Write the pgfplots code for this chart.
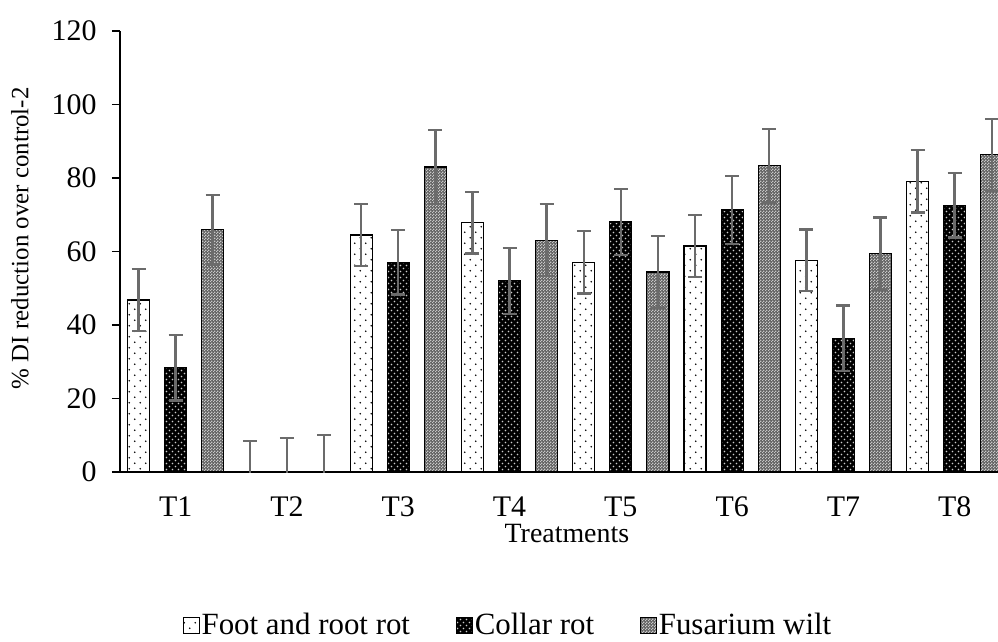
\documentclass[border=0pt]{standalone}
\usepackage{pgfplots}
\pgfplotsset{compat=1.18}
\usepackage{fontspec}
\setmainfont{Liberation Serif}
\usetikzlibrary{patterns}

\pgfdeclarepatternformonly{sparsedots}{\pgfqpoint{-1bp}{-1bp}}{\pgfqpoint{12bp}{12bp}}{\pgfqpoint{11bp}{11bp}}{%
 \pgfpathcircle{\pgfqpoint{2.75bp}{2.75bp}}{0.9bp}%
 \pgfpathcircle{\pgfqpoint{8.25bp}{8.25bp}}{0.9bp}%
 \pgfusepath{fill}}
\pgfdeclarepatternformonly{densedots}{\pgfqpoint{-1bp}{-1bp}}{\pgfqpoint{7bp}{7bp}}{\pgfqpoint{6bp}{6bp}}{%
 \pgfpathcircle{\pgfqpoint{1.5bp}{1.5bp}}{0.9bp}%
 \pgfpathcircle{\pgfqpoint{4.5bp}{4.5bp}}{0.9bp}%
 \pgfusepath{fill}}
\pgfdeclarepatternformonly{checker}{\pgfqpoint{0bp}{0bp}}{\pgfqpoint{3bp}{3bp}}{\pgfqpoint{3bp}{3bp}}{%
 \pgfpathrectangle{\pgfqpoint{0bp}{0bp}}{\pgfqpoint{1.5bp}{1.5bp}}%
 \pgfpathrectangle{\pgfqpoint{1.5bp}{1.5bp}}{\pgfqpoint{1.5bp}{1.5bp}}%
 \pgfusepath{fill}}

\pgfplotstableread{
x y e
0 46.8 8.4
1 0 8.5
2 64.5 8.4
3 67.8 8.4
4 57.1 8.5
5 61.5 8.4
6 57.6 8.4
7 79.1 8.5
}\foot
\pgfplotstableread{
x y e
0 28.4 8.9
1 0 9.2
2 57.1 8.8
3 52.0 9.0
4 68.0 9.0
5 71.3 9.2
6 36.4 8.9
7 72.6 8.8
}\collar
\pgfplotstableread{
x y e
0 65.9 9.5
1 0 10.1
2 83.0 10.1
3 63.1 9.8
4 54.4 9.8
5 83.3 10.0
6 59.4 9.8
7 86.3 9.8
}\fusarium

\begin{document}
\begin{tikzpicture}
\useasboundingbox (0,0) rectangle (998bp,642bp);
\begin{axis}[
  at={(120bp,170bp)}, anchor=south west,
  scale only axis, width=878bp, height=441bp,
  xmin=-0.5, xmax=7.389, ymin=0, ymax=120,
  axis x line=bottom, axis y line=left,
  axis line style={-, line width=1.2bp, black},
  ytick={0,20,...,120},
  xtick={0,...,7}, xticklabels={T1,T2,T3,T4,T5,T6,T7,T8},
  x tick style={draw=none},
  y tick style={black, line width=1.2bp},
  major tick length=8bp, tick align=outside,
  tick label style={font=\fontsize{30}{33}\selectfont},
  /pgf/number format/assume math mode=true,
  yticklabel style={xshift=-12bp},
  xticklabel style={yshift=-13bp},
  ylabel={\% DI reduction over control-2},
  ylabel style={font=\fontsize{25}{28}\selectfont, at={(axis description cs:-0.114,0.53)}, anchor=center},
  xlabel={Treatments},
  xlabel style={font=\fontsize{28}{31}\selectfont, at={(axis description cs:0.509,-0.140)}, anchor=center},
  ybar, bar width=0.198,
  error bars/y dir=both, error bars/y explicit,
  error bars/error bar style={line width=2.5bp, color=black!58},
  error bars/error mark options={rotate=90, mark size=7bp, line width=2.5bp, color=black!58},
  legend columns=3,
  legend style={at={(0.442,-0.347)}, anchor=center, draw=none,
    font=\fontsize{31}{34}\selectfont,
    /tikz/every even column/.append style={column sep=44bp}},
  legend image code/.code={\draw[#1, line width=0.8bp] (0bp,-8bp) rectangle (16bp,8bp);},
]
\addplot[bar shift=-0.333, draw=black, line width=1.2bp, fill=white,
  postaction={pattern=sparsedots, pattern color=black}]
  table[x=x, y=y, y error=e] {\foot};
\addplot[bar shift=0, draw=black, line width=1.2bp, fill=black,
  postaction={pattern=densedots, pattern color=white!80!black}]
  table[x=x, y=y, y error=e] {\collar};
\addplot[bar shift=0.333, draw=black, line width=1.2bp, fill=black!62,
  postaction={pattern=checker, pattern color=black!22}]
  table[x=x, y=y, y error=e] {\fusarium};
\legend{Foot and root rot, Collar rot, Fusarium wilt}
\end{axis}
\end{tikzpicture}
\end{document}
